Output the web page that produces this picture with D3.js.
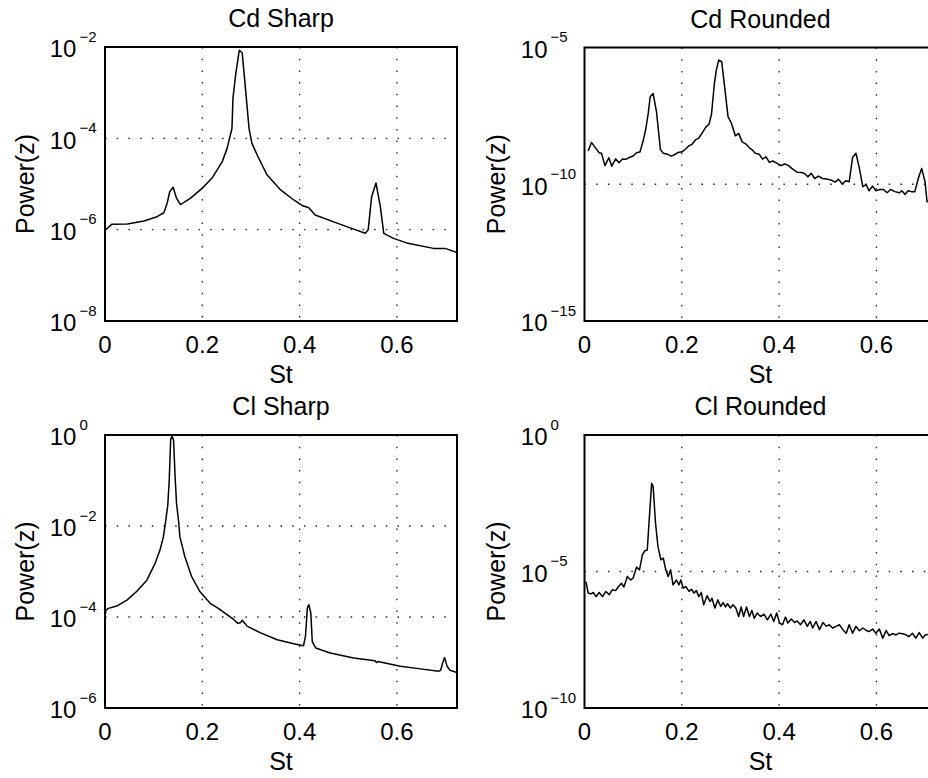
<!DOCTYPE html>
<html>
<head>
<meta charset="utf-8">
<script src="https://cdn.jsdelivr.net/npm/d3@7/dist/d3.min.js"></script>
<style>
body { margin: 0; background: #fff; }
svg { display: block; font-family: "Liberation Sans", Arial, Helvetica, sans-serif; }
</style>
</head>
<body>
<svg id="fig" width="928" height="778"></svg>
<script>
// St (Strouhal number) tick values and range of the x axis
var stTicks = [0, 0.2, 0.4, 0.6];
var stMax = 0.7235;

// spectra: [St, log10(power)]
var cdSharp = [
    [0, -6.0], [0.005, -5.97], [0.0137, -5.884], [0.046, -5.877], [0.08, -5.81], [0.107, -5.716],
    [0.121, -5.63], [0.128, -5.41], [0.133, -5.17], [0.140, -5.07], [0.147, -5.31], [0.155, -5.45],
    [0.176, -5.31], [0.200, -5.09], [0.220, -4.87], [0.241, -4.51], [0.251, -4.22], [0.261, -3.78],
    [0.263, -3.12], [0.269, -2.57], [0.276, -2.07], [0.282, -2.13], [0.289, -2.94], [0.296, -3.78],
    [0.302, -4.11], [0.313, -4.37], [0.333, -4.80], [0.361, -5.13], [0.388, -5.35], [0.405, -5.47],
    [0.419, -5.52], [0.432, -5.68], [0.47, -5.83], [0.504, -5.96], [0.535, -6.08], [0.541, -6.0],
    [0.548, -5.28], [0.557, -4.98], [0.566, -5.50], [0.573, -6.08], [0.593, -6.19], [0.620, -6.29],
    [0.675, -6.41], [0.699, -6.41], [0.7235, -6.50]
];

var cdRounded = [
    [0.0076, -8.78], [0.0144, -8.47], [0.0233, -8.69], [0.030, -8.85], [0.035, -8.87], [0.042, -9.32],
    [0.050, -9.03], [0.056, -9.34], [0.064, -9.07], [0.071, -9.21], [0.078, -9.08], [0.085, -9.09],
    [0.092, -9.02], [0.100, -8.97], [0.107, -8.85], [0.114, -8.82], [0.121, -8.38], [0.126, -7.98],
    [0.131, -7.41], [0.135, -6.80], [0.141, -6.68], [0.148, -7.35], [0.156, -8.73], [0.162, -8.87],
    [0.170, -8.90], [0.178, -8.97], [0.185, -8.92], [0.192, -8.84], [0.201, -8.81], [0.208, -8.71],
    [0.214, -8.60], [0.221, -8.54], [0.228, -8.38], [0.235, -8.31], [0.242, -8.12], [0.249, -7.92],
    [0.256, -7.80], [0.261, -7.44], [0.267, -6.31], [0.271, -5.82], [0.276, -5.46], [0.282, -5.52],
    [0.288, -6.43], [0.295, -7.53], [0.302, -7.77], [0.310, -8.23], [0.317, -8.14], [0.324, -8.45],
    [0.332, -8.53], [0.339, -8.67], [0.344, -8.73], [0.351, -8.87], [0.359, -8.90], [0.366, -9.08],
    [0.373, -9.00], [0.380, -9.20], [0.387, -9.15], [0.396, -9.24], [0.404, -9.32], [0.411, -9.26],
    [0.418, -9.30], [0.426, -9.42], [0.437, -9.56], [0.447, -9.57], [0.454, -9.63], [0.459, -9.73],
    [0.466, -9.60], [0.473, -9.79], [0.481, -9.70], [0.489, -9.79], [0.498, -9.81], [0.508, -9.85],
    [0.515, -9.92], [0.522, -9.82], [0.530, -9.99], [0.537, -9.87], [0.544, -9.91], [0.551, -9.02],
    [0.558, -8.87], [0.565, -9.42], [0.572, -10.09], [0.579, -10.01], [0.585, -10.24], [0.592, -10.07],
    [0.599, -10.24], [0.607, -10.19], [0.614, -10.19], [0.622, -10.31], [0.629, -10.19], [0.638, -10.27],
    [0.647, -10.31], [0.652, -10.24], [0.659, -10.37], [0.665, -10.24], [0.672, -10.27], [0.679, -10.27],
    [0.686, -9.79], [0.693, -9.42], [0.700, -9.91], [0.704, -10.64], [0.712, -10.6], [0.7235, -10.6]
];

var clSharp = [
    [0, -3.99], [0.002, -3.85], [0.007, -3.81], [0.024, -3.76], [0.045, -3.63], [0.065, -3.44],
    [0.086, -3.19], [0.103, -2.82], [0.113, -2.53], [0.120, -2.24], [0.125, -1.87], [0.129, -1.55],
    [0.132, -1.0], [0.135, -0.1], [0.138, -0.02], [0.141, -0.12], [0.144, -0.9], [0.147, -1.5],
    [0.151, -1.87], [0.154, -2.24], [0.164, -2.67], [0.178, -3.11], [0.195, -3.44], [0.216, -3.70],
    [0.233, -3.81], [0.265, -4.06], [0.273, -4.14], [0.279, -4.12], [0.282, -4.07], [0.292, -4.20],
    [0.320, -4.35], [0.354, -4.50], [0.388, -4.59], [0.408, -4.63], [0.412, -4.43], [0.416, -3.80],
    [0.419, -3.73], [0.423, -3.91], [0.426, -4.54], [0.433, -4.68], [0.463, -4.79], [0.511, -4.90],
    [0.555, -4.96], [0.558, -5.0], [0.561, -4.98], [0.607, -5.08], [0.648, -5.14], [0.686, -5.19],
    [0.690, -5.17], [0.694, -5.01], [0.698, -4.89], [0.703, -5.08], [0.709, -5.17], [0.7235, -5.22]
];

var clRounded = [
    [0.003, -5.37], [0.0076, -5.79], [0.013, -5.82], [0.018, -5.77], [0.024, -5.92], [0.030, -5.77],
    [0.037, -5.92], [0.044, -5.73], [0.051, -5.85], [0.057, -5.67], [0.064, -5.70], [0.070, -5.55],
    [0.076, -5.43], [0.081, -5.57], [0.088, -5.18], [0.095, -5.31], [0.100, -5.24], [0.107, -4.84],
    [0.113, -4.94], [0.119, -4.39], [0.124, -4.24], [0.129, -4.21], [0.133, -3.11], [0.138, -1.77],
    [0.141, -1.87], [0.146, -3.23], [0.151, -4.09], [0.157, -4.57], [0.162, -4.51], [0.167, -4.94],
    [0.172, -5.18], [0.177, -4.94], [0.182, -5.49], [0.189, -5.31], [0.194, -5.49], [0.198, -5.31],
    [0.203, -5.61], [0.208, -5.55], [0.215, -5.73], [0.220, -5.65], [0.225, -5.79], [0.230, -5.70],
    [0.235, -5.92], [0.240, -5.77], [0.245, -6.22], [0.252, -5.89], [0.258, -6.10], [0.262, -5.98],
    [0.268, -6.34], [0.274, -6.04], [0.280, -6.28], [0.285, -6.14], [0.290, -6.30], [0.294, -6.18],
    [0.300, -6.34], [0.305, -6.22], [0.311, -6.34], [0.317, -6.65], [0.322, -6.30], [0.327, -6.65],
    [0.333, -6.30], [0.339, -6.65], [0.344, -6.43], [0.349, -6.71], [0.355, -6.52], [0.362, -6.65],
    [0.369, -6.56], [0.376, -6.77], [0.383, -6.56], [0.389, -6.83], [0.395, -6.52], [0.401, -6.89],
    [0.407, -6.95], [0.413, -6.67], [0.418, -6.89], [0.425, -6.74], [0.432, -6.87], [0.437, -6.81],
    [0.444, -6.95], [0.451, -6.77], [0.458, -7.01], [0.464, -6.83], [0.469, -7.07], [0.476, -6.83],
    [0.483, -7.13], [0.490, -6.87], [0.497, -7.01], [0.503, -6.95], [0.510, -7.07], [0.517, -7.01],
    [0.524, -6.95], [0.531, -7.13], [0.538, -7.26], [0.544, -6.95], [0.551, -7.26], [0.558, -7.01],
    [0.565, -7.17], [0.572, -7.07], [0.579, -7.16], [0.585, -7.20], [0.592, -7.11], [0.599, -7.26],
    [0.606, -7.11], [0.613, -7.44], [0.620, -7.16], [0.626, -7.35], [0.633, -7.28], [0.640, -7.32],
    [0.647, -7.26], [0.654, -7.28], [0.661, -7.32], [0.667, -7.38], [0.674, -7.26], [0.681, -7.44],
    [0.688, -7.24], [0.695, -7.44], [0.701, -7.32], [0.710, -7.30], [0.7235, -7.35]
];

// decade exponents shown on each y axis
var cdSharpExps = [-8, -6, -4, -2];
var cdRoundedExps = [-15, -10, -5];
var clSharpExps = [-6, -4, -2, 0];
var clRoundedExps = [-10, -5, 0];

var panels = [
    { title: "Cd Sharp", data: cdSharp, exps: cdSharpExps, left: 105, top: 47, right: 457, bottom: 321 },
    { title: "Cd Rounded", data: cdRounded, exps: cdRoundedExps, left: 584.5, top: 47.5, right: 936.5, bottom: 321 },
    { title: "Cl Sharp", data: clSharp, exps: clSharpExps, left: 105, top: 435, right: 457, bottom: 708 },
    { title: "Cl Rounded", data: clRounded, exps: clRoundedExps, left: 584.5, top: 435, right: 936.5, bottom: 708 }
];

var svg = d3.select("#fig");

panels.forEach(function (p, i) {
    var x = d3.scaleLinear().domain([0, stMax]).range([p.left, p.right]);
    var y = d3.scaleLog()
        .domain([Math.pow(10, d3.min(p.exps)), Math.pow(10, d3.max(p.exps))])
        .range([p.bottom, p.top]);

    var g = svg.append("g").attr("class", "panel");

    g.append("clipPath").attr("id", "clip" + i)
        .append("rect")
        .attr("x", p.left).attr("y", p.top)
        .attr("width", p.right - p.left).attr("height", p.bottom - p.top);

    // dotted grid
    g.selectAll(".vgrid")
        .data(stTicks.filter(function (d) { return d > 0; }))
        .enter().append("line")
        .attr("class", "vgrid")
        .attr("x1", function (d) { return x(d); }).attr("x2", function (d) { return x(d); })
        .attr("y1", p.top).attr("y2", p.bottom);

    g.selectAll(".hgrid")
        .data(p.exps.slice(1, -1))
        .enter().append("line")
        .attr("class", "hgrid")
        .attr("x1", p.left).attr("x2", p.right)
        .attr("y1", function (d) { return y(Math.pow(10, d)); })
        .attr("y2", function (d) { return y(Math.pow(10, d)); });

    g.selectAll(".vgrid, .hgrid")
        .attr("stroke", "#222")
        .attr("stroke-width", 1.3)
        .attr("stroke-dasharray", "1.5 10.2");

    var line = d3.line()
        .x(function (d) { return x(d[0]); })
        .y(function (d) { return y(Math.pow(10, d[1])); });

    g.append("path")
        .datum(p.data)
        .attr("clip-path", "url(#clip" + i + ")")
        .attr("fill", "none")
        .attr("stroke", "#000")
        .attr("stroke-width", 1.5)
        .attr("stroke-linejoin", "round")
        .attr("d", line);

    g.append("rect")
        .attr("x", p.left).attr("y", p.top)
        .attr("width", p.right - p.left).attr("height", p.bottom - p.top)
        .attr("fill", "none")
        .attr("stroke", "#000")
        .attr("stroke-width", 2);

    // x tick labels
    g.selectAll(".xtick")
        .data(stTicks)
        .enter().append("text")
        .attr("class", "xtick")
        .attr("x", function (d) { return x(d); })
        .attr("y", p.bottom + 32)
        .attr("text-anchor", "middle")
        .style("font-size", "24px")
        .text(function (d) { return d === 0 ? "0" : d3.format(".1f")(d); });

    // y tick labels: "10" with the exponent as a superscript
    var sups = g.selectAll(".ysup")
        .data(p.exps)
        .enter().append("text")
        .attr("class", "ysup")
        .attr("y", function (d) { return y(Math.pow(10, d)) - 5.3; })
        .style("font-size", "15px")
        .text(function (d) { return d < 0 ? "\u2212" + (-d) : String(d); });

    var supW = 0;
    sups.each(function () { supW = Math.max(supW, this.getComputedTextLength()); });
    var supX = p.left - 8.5 - supW;
    sups.attr("x", supX);

    var base = g.selectAll(".ybase")
        .data(p.exps)
        .enter().append("text")
        .attr("class", "ybase")
        .attr("x", supX - 3)
        .attr("y", function (d) { return y(Math.pow(10, d)) + 10.3; })
        .attr("text-anchor", "end")
        .style("font-size", "24px")
        .text("10");

    var baseW = base.node().getComputedTextLength();
    var labelX = supX - 3 - baseW - 15.5;

    g.append("text")
        .attr("transform", "translate(" + labelX + "," + ((p.top + p.bottom) / 2) + ") rotate(-90)")
        .attr("text-anchor", "middle")
        .style("font-size", "25px")
        .text("Power(z)");

    g.append("text")
        .attr("x", (p.left + p.right) / 2)
        .attr("y", p.bottom + 62)
        .attr("text-anchor", "middle")
        .style("font-size", "25px")
        .text("St");

    g.append("text")
        .attr("x", (p.left + p.right) / 2)
        .attr("y", p.top - 20)
        .attr("text-anchor", "middle")
        .style("font-size", "25px")
        .text(p.title);
});
</script>
</body>
</html>
